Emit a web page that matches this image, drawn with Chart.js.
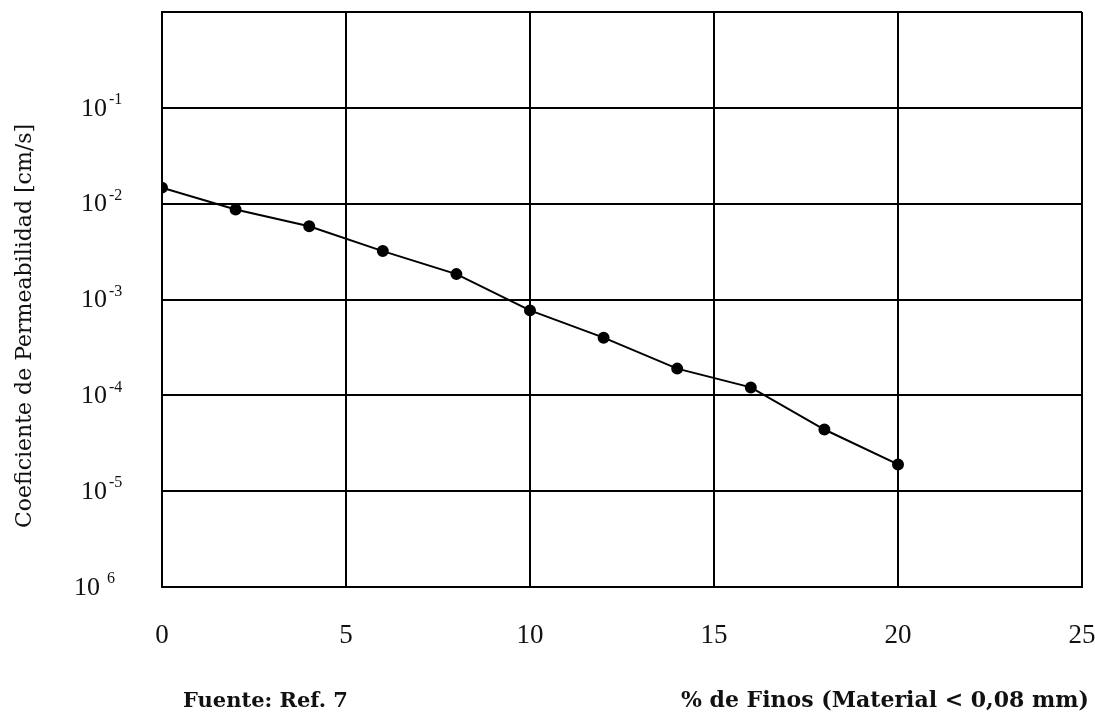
<!DOCTYPE html>
<html>
<head>
<meta charset="utf-8">
<script src="https://cdn.jsdelivr.net/npm/chart.js@4.4.1/dist/chart.umd.min.js"></script>
<style>
  html, body { margin: 0; padding: 0; background: #fff; }
  #wrap { width: 1095px; height: 718px; position: relative; }
</style>
</head>
<body>
<div id="wrap"><canvas id="c" width="1095" height="718"></canvas></div>
<script>
// ---- data ----
const finesPct = [0, 2, 4, 6, 8, 10, 12, 14, 16, 18, 20];
const permeability = [0.0147, 0.0087, 0.0058, 0.0032, 0.00184, 0.00077, 0.00040, 0.00019, 0.000121, 0.000044, 0.000019];
const xTicks = [0, 5, 10, 15, 20, 25];
const yTickValues = [1e-6, 1e-5, 1e-4, 1e-3, 1e-2, 1e-1];
const yTickBases = ['10', '10', '10', '10', '10', '10'];
const yTickExps = ['6', '-5', '-4', '-3', '-2', '-1'];
const yTitle = 'Coeficiente de Permeabilidad [cm/s]';
const xTitle = '% de Finos (Material < 0,08 mm)';
const sourceNote = 'Fuente: Ref. 7';

const SERIF = '"Liberation Serif", "DejaVu Serif", serif';
const WIDE_SERIF = '"DejaVu Serif", "Liberation Serif", serif';

const textPlugin = {
  id: 'texts',
  afterDraw(chart) {
    const ctx = chart.ctx;
    const ys = chart.scales.y;
    ctx.save();
    ctx.fillStyle = '#111';
    ctx.textBaseline = 'middle';
    yTickValues.forEach((v, i) => {
      const py = ys.getPixelForValue(v);
      const exp = yTickExps[i];
      const neg = exp.startsWith('-');
      ctx.font = '26px ' + SERIF;
      ctx.textAlign = 'left';
      const baseX = neg ? 81 : 74;
      ctx.fillText(yTickBases[i], baseX, py + 1);
      const bw = ctx.measureText(yTickBases[i]).width;
      ctx.font = '16px ' + SERIF;
      ctx.fillText(exp, baseX + bw + (neg ? 2 : 7), py - 8);
    });
    // y axis title (rotated)
    ctx.save();
    ctx.translate(25, 326);
    ctx.rotate(-Math.PI / 2);
    ctx.font = '22px ' + WIDE_SERIF;
    ctx.textAlign = 'center';
    ctx.textBaseline = 'middle';
    ctx.fillText(yTitle, 0, 0);
    ctx.restore();
    // bottom notes
    ctx.textBaseline = 'alphabetic';
    ctx.font = 'bold 21px ' + WIDE_SERIF;
    ctx.textAlign = 'left';
    ctx.fillText(sourceNote, 183, 707);
    ctx.font = 'bold 22px ' + WIDE_SERIF;
    ctx.textAlign = 'right';
    ctx.fillText(xTitle, 1089, 707);
    ctx.restore();
  }
};

new Chart(document.getElementById('c'), {
  type: 'line',
  data: {
    datasets: [{
      data: finesPct.map((x, i) => ({ x: x, y: permeability[i] })),
      borderColor: '#000',
      backgroundColor: '#000',
      borderWidth: 2,
      pointRadius: 5,
      pointHoverRadius: 5,
      pointBackgroundColor: '#000',
      pointBorderColor: '#000',
      tension: 0,
      fill: false
    }]
  },
  options: {
    responsive: false,
    animation: false,
    devicePixelRatio: 1,
    layout: { padding: { left: 0, top: 12, right: 13, bottom: 0 } },
    plugins: { legend: { display: false }, tooltip: { enabled: false } },
    scales: {
      x: {
        type: 'linear',
        min: 0, max: 25,
        afterBuildTicks(scale) { scale.ticks = xTicks.map(v => ({ value: v })); },
        afterFit(scale) { scale.height = 131; scale.paddingLeft = 0; scale.paddingRight = 0; },
        grid: { color: '#000', lineWidth: 2, drawTicks: false },
        border: { color: '#000', width: 2 },
        ticks: {
          color: '#111',
          font: { family: SERIF, size: 27 },
          padding: 33,
          maxRotation: 0,
          callback: v => String(v)
        },
        title: { display: false, text: xTitle }
      },
      y: {
        type: 'logarithmic',
        min: 1e-6, max: 1,
        afterBuildTicks(scale) { scale.ticks = yTickValues.concat([1]).map(v => ({ value: v })); },
        afterFit(scale) { scale.width = 162; scale.paddingTop = 0; scale.paddingBottom = 0; },
        grid: { color: '#000', lineWidth: 2, drawTicks: false },
        border: { color: '#000', width: 2 },
        ticks: { display: false },
        title: { display: false, text: yTitle }
      }
    }
  },
  plugins: [textPlugin]
});
</script>
</body>
</html>
